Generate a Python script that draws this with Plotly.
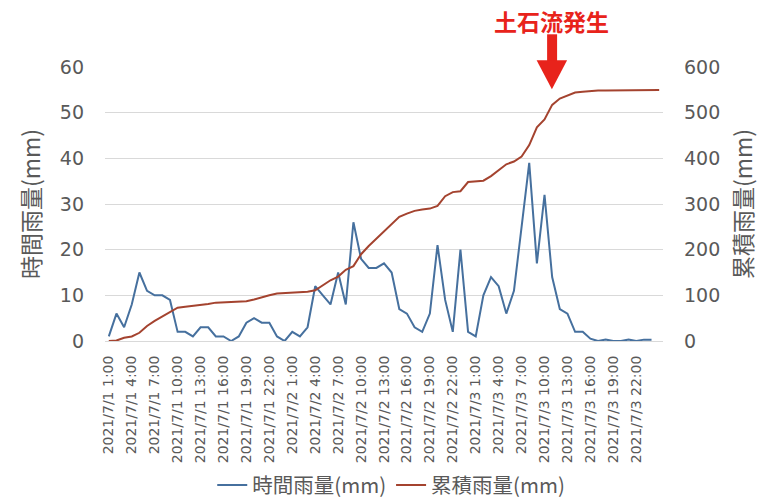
import pandas as pd
import plotly.graph_objects as go

# ---- data ----
hourly_rain = [1, 6, 3, 8, 15, 11, 10, 10, 9, 2,
               2, 1, 3, 3, 1, 1, 0, 1, 4, 5,
               4, 4, 1, 0, 2, 1, 3, 12, 10, 8,
               15, 8, 26, 18, 16, 16, 17, 15, 7, 6,
               3, 2, 6, 21, 9, 2, 20, 2, 1, 10,
               14, 12, 6, 11, 25, 39, 17, 32, 14, 7,
               6, 2, 2, 0.5, 0, 0.3, 0, 0, 0.3, 0, 0.3, 0.3]

cumulative_rain = [0, 1, 7, 10, 18, 33, 44, 54, 64, 73,
                   75, 77, 78, 81, 84, 85, 86, 86, 87, 91,
                   96, 100, 104, 105, 105, 107, 108, 111, 123, 133,
                   141, 156, 164, 190, 208, 224, 240, 257, 272, 279,
                   285, 288, 290, 296, 317, 326, 328, 348, 350, 351,
                   361, 375, 387, 393, 404, 429, 468, 485, 517, 531,
                   538, 544, 546, 548, 548.5, 548.5, 548.8, 548.8, 548.8, 549.1,
                   549.1, 549.4, 549.7]

times = pd.date_range("2021-07-01 01:00", periods=len(cumulative_rain), freq="h")
categories = [f"{t.year}/{t.month}/{t.day} {t.hour}:00" for t in times]

tick_labels = ["2021/7/1 1:00", "2021/7/1 4:00", "2021/7/1 7:00", "2021/7/1 10:00",
               "2021/7/1 13:00", "2021/7/1 16:00", "2021/7/1 19:00", "2021/7/1 22:00",
               "2021/7/2 1:00", "2021/7/2 4:00", "2021/7/2 7:00", "2021/7/2 10:00",
               "2021/7/2 13:00", "2021/7/2 16:00", "2021/7/2 19:00", "2021/7/2 22:00",
               "2021/7/3 1:00", "2021/7/3 4:00", "2021/7/3 7:00", "2021/7/3 10:00",
               "2021/7/3 13:00", "2021/7/3 16:00", "2021/7/3 19:00", "2021/7/3 22:00"]

left_ticks = [0, 10, 20, 30, 40, 50, 60]
right_ticks = [0, 100, 200, 300, 400, 500, 600]

event_label = "土石流発生"

# ---- layout geometry (pixels) ----
W, H = 771, 502
L, R, T, B = 104.5, 108, 66.7, 161.3
PW, PH = W - L - R, H - T - B


def px(x):
    return (x - L) / PW


def py(y):
    return (H - B - y) / PH


BLUE = "#46709e"
RED = "#a4432f"
GRID = "#d9d9d9"
TXT = "#595959"
ARROW = "#e8231b"
CJK = "Noto Sans CJK JP"

fig = go.Figure()
fig.add_trace(go.Scatter(x=categories[:len(hourly_rain)], y=hourly_rain, mode="lines",
                         name="時間雨量(mm)", line=dict(color=BLUE, width=2)))
fig.add_trace(go.Scatter(x=categories, y=cumulative_rain, mode="lines",
                         name="累積雨量(mm)", line=dict(color=RED, width=2), yaxis="y2"))

shapes = [
    dict(type="rect", xref="paper", yref="paper",
         x0=px(547), x1=px(557), y0=py(61), y1=py(34),
         fillcolor=ARROW, line=dict(width=0)),
    dict(type="path", xref="paper", yref="paper",
         path=f"M {px(536.5)} {py(60)} L {px(567)} {py(60)} L {px(551.8)} {py(89)} Z",
         fillcolor=ARROW, line=dict(width=0)),
]

fig.update_layout(
    width=W, height=H,
    margin=dict(l=L, r=R, t=T, b=B, autoexpand=False),
    paper_bgcolor="white", plot_bgcolor="white",
    showlegend=True,
    legend=dict(orientation="h", x=px(391), xanchor="center", y=py(485), yanchor="middle",
                font=dict(family=CJK, size=20.5, color=TXT), itemwidth=30,
                bgcolor="rgba(0,0,0,0)"),
    xaxis=dict(type="category", categoryorder="array", categoryarray=categories,
               range=[-0.5, len(categories) - 0.5],
               tickmode="array", tickvals=tick_labels, ticktext=tick_labels,
               tickangle=-90, ticks="", showgrid=False, zeroline=False,
               showline=True, linecolor=GRID, linewidth=1,
               tickfont=dict(family="DejaVu Sans", size=14, color=TXT),
               ticklabelstandoff=8),
    yaxis=dict(range=[0, 60], tickvals=left_ticks, showgrid=True, gridcolor=GRID, gridwidth=1,
               zeroline=False, showline=False, ticks="",
               tickfont=dict(family="DejaVu Sans", size=19, color=TXT), ticklabelstandoff=20,
               title=dict(text="時間雨量(mm)", font=dict(family=CJK, size=23, color=TXT),
                          standoff=12)),
    yaxis2=dict(range=[0, 600], tickvals=right_ticks, overlaying="y", side="right",
                showgrid=False, zeroline=False, showline=False, ticks="",
                tickfont=dict(family="DejaVu Sans", size=19, color=TXT), ticklabelstandoff=20,
                title=dict(text="累積雨量(mm)", font=dict(family=CJK, size=23, color=TXT),
                           standoff=16)),
    shapes=shapes,
    annotations=[dict(text=f"<b>{event_label}</b>", xref="paper", yref="paper",
                      x=px(551), y=py(21), xanchor="center", yanchor="middle",
                      showarrow=False, font=dict(family=CJK, size=23, color=ARROW))],
)

fig.write_html("out.html")
